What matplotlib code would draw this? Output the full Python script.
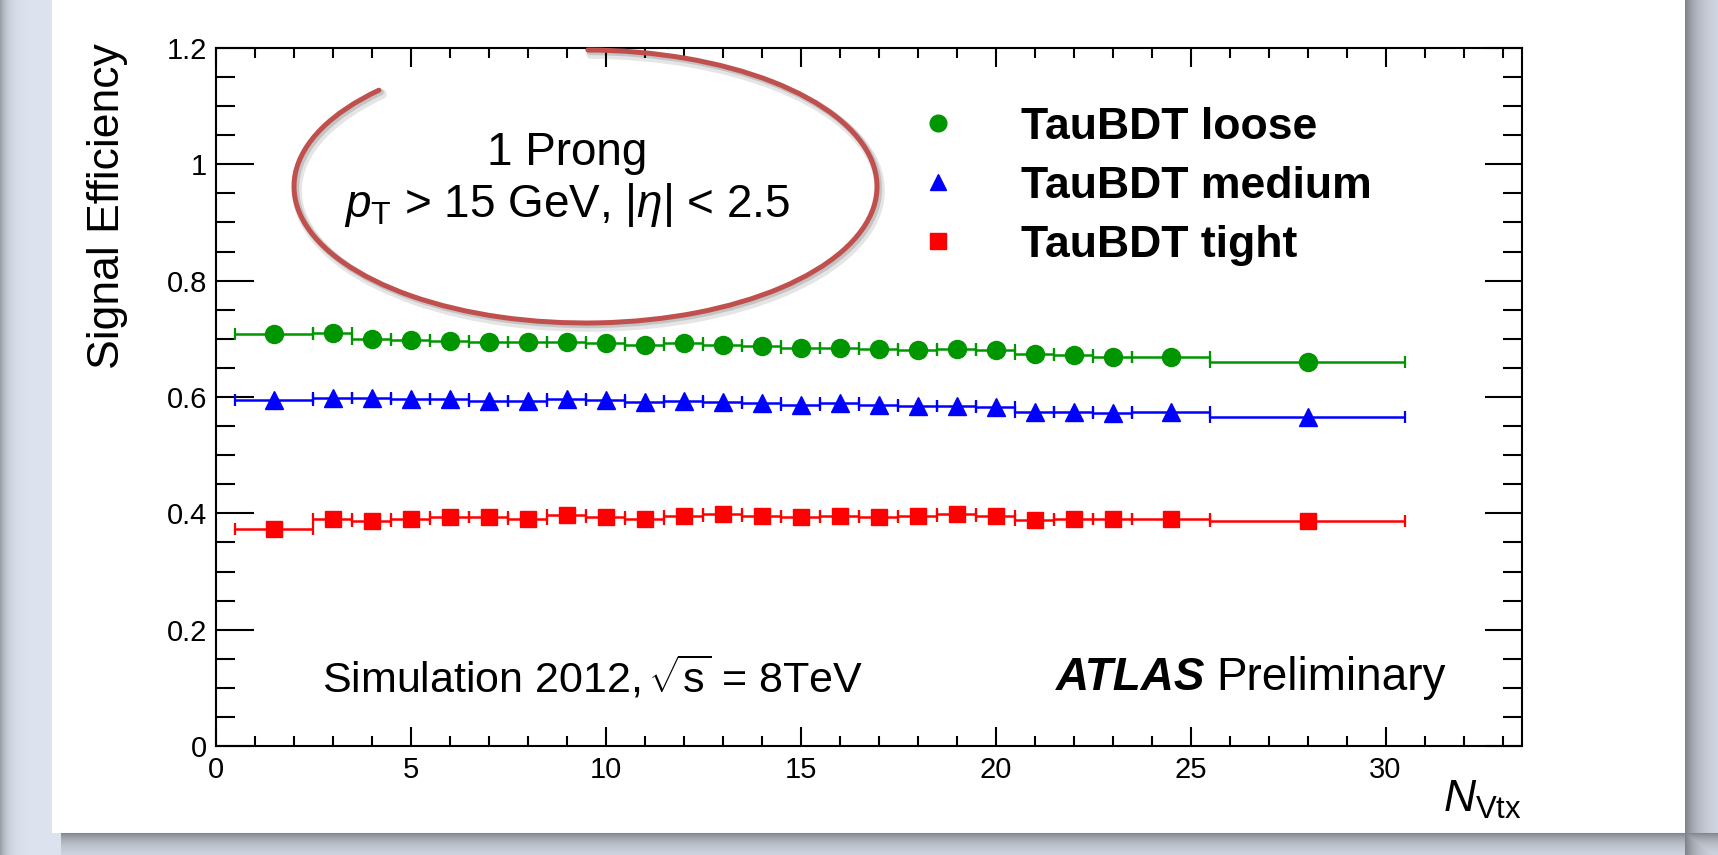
import numpy as np
import matplotlib
matplotlib.use("Agg")
import matplotlib.pyplot as plt
from matplotlib.patches import Arc
from matplotlib.lines import Line2D
from matplotlib.ticker import MultipleLocator, FuncFormatter

##-------------------------- DATA ------------------------##
bin_edges = [0.5, 2.5, 3.5, 4.5, 5.5, 6.5, 7.5, 8.5, 9.5, 10.5, 11.5, 12.5, 13.5,
             14.5, 15.5, 16.5, 17.5, 18.5, 19.5, 20.5, 21.5, 22.5, 23.5, 25.5, 30.5]

eff_loose = [0.709, 0.710, 0.700, 0.698, 0.697, 0.694, 0.694, 0.695, 0.693, 0.689,
             0.693, 0.690, 0.687, 0.685, 0.684, 0.683, 0.680, 0.682, 0.680, 0.674,
             0.673, 0.668, 0.669, 0.660]
eff_medium = [0.595, 0.599, 0.599, 0.597, 0.596, 0.593, 0.593, 0.597, 0.594, 0.591,
              0.593, 0.591, 0.590, 0.587, 0.589, 0.586, 0.585, 0.585, 0.583, 0.574,
              0.574, 0.573, 0.574, 0.566]
eff_tight = [0.373, 0.391, 0.387, 0.390, 0.394, 0.393, 0.391, 0.397, 0.394, 0.391,
             0.395, 0.398, 0.395, 0.393, 0.396, 0.394, 0.395, 0.399, 0.395, 0.389,
             0.391, 0.390, 0.391, 0.386]

labels = ['TauBDT loose', 'TauBDT medium', 'TauBDT tight']
colours = ['#009600', '#0000ff', '#ff0000']
markers = ['o', '^', 's']
msizes = [13, 13, 12]

##-------------------------- STYLE ------------------------##
plt.rcParams['font.family'] = ['Liberation Sans', 'DejaVu Sans']
plt.rcParams['mathtext.fontset'] = 'custom'
plt.rcParams['mathtext.rm'] = 'Liberation Sans'
plt.rcParams['mathtext.it'] = 'Liberation Sans:italic'
plt.rcParams['mathtext.bf'] = 'Liberation Sans:bold'

W, H = 1718, 855
fig = plt.figure(figsize=(W / 100, H / 100), dpi=100)

# slide background: light panel with a soft drop shadow
bg = fig.add_axes([0, 0, 1, 1], zorder=-10)
yy, xx = np.mgrid[0:H, 0:W]
base = np.array([0.866, 0.890, 0.937])
dark = 0.30 * np.exp(-xx / 7.0)
right = np.where(xx >= 1685, 0.42 * np.exp(-(xx - 1685) / 16.0), 0)
bottom = np.where((yy >= 833) & (xx > 60), 0.40 * np.exp(-(yy - 833) / 12.0), 0)
dark = np.maximum(dark, np.maximum(right, bottom))
img = base[None, None, :] * (1 - dark[..., None])
panel = (xx >= 52) & (xx < 1685) & (yy < 833)
img[panel] = 1.0
bg.imshow(img, aspect='auto', extent=[0, 1, 0, 1], interpolation='bilinear')
bg.set_axis_off()

ax = fig.add_axes([216 / W, (H - 746) / H, 1306 / W, 698 / H])
ax.set_facecolor('none')

edges = np.array(bin_edges)
x = (edges[:-1] + edges[1:]) / 2
xerr = (edges[1:] - edges[:-1]) / 2

for vals, col, mk, ms in zip([eff_loose, eff_medium, eff_tight], colours, markers, msizes):
    ax.errorbar(x, vals, xerr=xerr, fmt=mk, color=col, ms=ms, lw=1.8,
                capsize=4, capthick=1.6, mec=col)

ax.set_xlim(0, 33.5)
ax.set_ylim(0, 1.2)
ax.xaxis.set_major_locator(MultipleLocator(5))
ax.xaxis.set_minor_locator(MultipleLocator(1))
ax.yaxis.set_major_locator(MultipleLocator(0.2))
ax.yaxis.set_minor_locator(MultipleLocator(0.05))
ax.yaxis.set_major_formatter(FuncFormatter(lambda v, p: '%g' % round(v, 2)))

for s in ax.spines.values():
    s.set_linewidth(1.5)
ax.tick_params(which='both', direction='in', top=True, right=True, width=1.5,
               labelsize=21)
ax.tick_params(axis='x', which='major', length=14, pad=7)
ax.tick_params(axis='x', which='minor', length=7)
ax.tick_params(axis='y', which='major', length=27, pad=6.5)
ax.tick_params(axis='y', which='minor', length=13.7)

xl = ax.set_xlabel(r'$N_{\mathrm{Vtx}}$', fontsize=32)
ax.xaxis.set_label_coords(1.0, -0.0946)
xl.set_ha('right')
xl.set_va('baseline')

yl = ax.set_ylabel('Signal Efficiency', fontsize=32)
ax.yaxis.set_label_coords(-0.0674, 1.007)
yl.set_rotation_mode('default')
yl.set_ha('right')
yl.set_va('top')

handles = [Line2D([], [], marker=m, ls='none', color=c, ms=12) for m, c in zip(markers, colours)]
ax.legend(handles, labels, loc='upper left',
          bbox_to_anchor=((917 - 216) / 1306, (746 - 107) / 698),
          frameon=False, prop={'weight': 'bold', 'size': 32}, handlelength=0.95,
          handletextpad=1.4, labelspacing=0.40, borderpad=0, borderaxespad=0)

def fx(px):
    return px / W

def fy(py):
    return 1 - py / H

fig.text(fx(322), fy(692), r'Simulation 2012, $\!\sqrt{\mathrm{s}}$ = 8TeV', fontsize=31,
         ha='left', va='baseline')
fig.text(fx(1056), fy(690), 'ATLAS', fontsize=33, fontweight='bold', style='italic',
         ha='left', va='baseline')
fig.text(fx(1216), fy(690), 'Preliminary', fontsize=33, ha='left', va='baseline')

# hand drawn ellipse round the selection text
cx, cy, ew, eh = 585.5, 186.5, 583, 273
for dx, dy, c, lw, a in [(3, 4, '#000000', 7, 0.10), (2, 2, '#000000', 4.5, 0.14),
                          (0, 0, '#c0504d', 3.6, 1.0)]:
    arc = Arc(((cx + dx) / 100, (H - cy - dy) / 100), ew / 100, eh / 100,
              theta1=155, theta2=89, color=c, lw=lw, alpha=a,
              transform=fig.dpi_scale_trans, capstyle='round')
    fig.add_artist(arc)

fig.text(fx(567), fy(165), '1 Prong', fontsize=33, ha='center', va='baseline')
fig.text(fx(567), fy(217), r'$p_{\mathrm{T}}$ > 15 GeV, $|\eta|$ < 2.5', fontsize=33,
         ha='center', va='baseline')

fig.savefig('out.png', dpi=100)
